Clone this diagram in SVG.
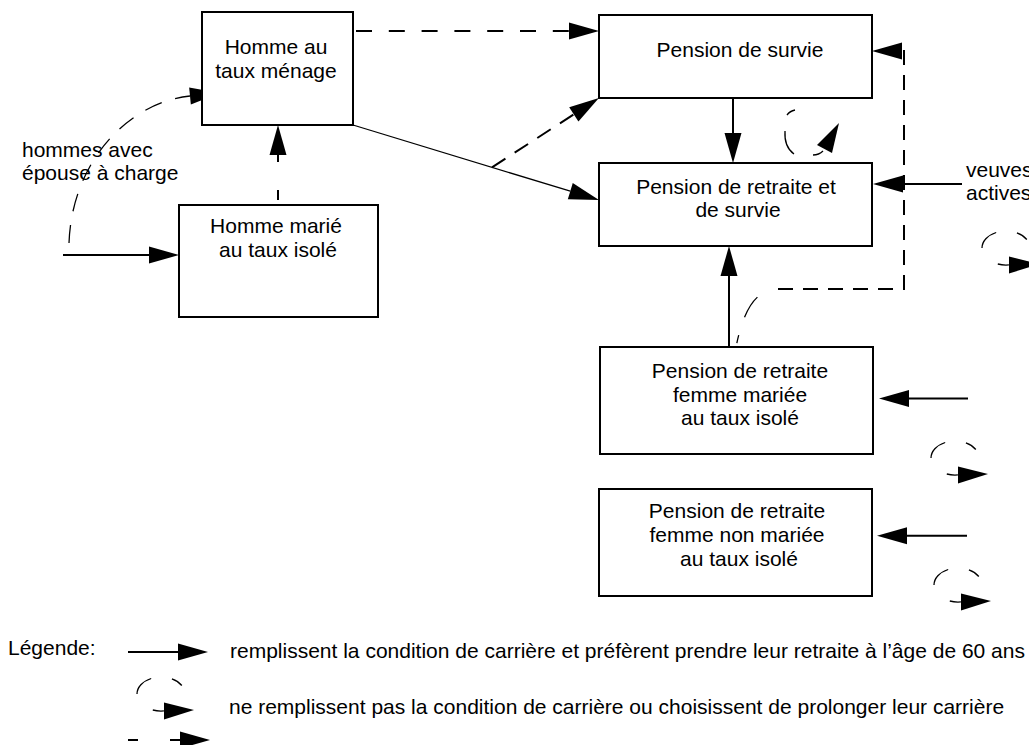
<svg xmlns="http://www.w3.org/2000/svg" xmlns:xlink="http://www.w3.org/1999/xlink" width="1029" height="745" viewBox="0 0 1029 745">
<style>
text{font-family:"Liberation Sans",Arial,Helvetica,sans-serif;font-size:21px;fill:#000}
.box{fill:#fff;stroke:#000;stroke-width:2}
.mid{text-anchor:middle}
.solid{fill:none;stroke:#000;stroke-width:2}
.solidthin{fill:none;stroke:#000;stroke-width:1.3}
.dash{fill:none;stroke:#000;stroke-width:2;stroke-dasharray:16 15}
.thin{fill:none;stroke:#000;stroke-width:1.3}
.head{fill:#000;stroke:none}
</style>
<defs>
<marker id="ah" markerUnits="userSpaceOnUse" markerWidth="31" markerHeight="18" refX="0" refY="8.5" orient="auto" overflow="visible">
<path d="M0,0 L30,8.5 L0,17 z" fill="#000"/>
</marker>
<g id="loop">
<path class="thin" d="M20.8,-8.5 A24,17 0 0 0 10.9,-15.1 M-9.8,-15.5 A24,17 0 0 0 -24,0 M-8.2,16 A24,17 0 0 0 2.9,16.9"/>
<polygon class="head" points="3,8.5 3,25.5 33,16"/>
</g>
</defs>

<g id="connectors">
<path class="dash" d="M356,31 H569" style="stroke-dasharray:16 16.8" marker-end="url(#ah)"/>
<path class="solidthin" d="M353,125 L570.3,191.2" marker-end="url(#ah)"/>
<path class="dash" d="M492,167.4 L573.8,114.3" style="stroke-dasharray:16 11" marker-end="url(#ah)"/>
<path class="solid" d="M733,98 V133" marker-end="url(#ah)"/>
<path class="solid" d="M729,347 V276" marker-end="url(#ah)"/>
<path class="thin" d="M736,347 C742,318 752,289 778,289" style="stroke-dasharray:0 4 8 19 24 40"/>
<path class="dash" d="M778,289 H904 V51 H902" style="stroke-dasharray:15 10" marker-end="url(#ah)"/>
<path class="solid" d="M962,184 H903" marker-end="url(#ah)"/>
<path class="solid" d="M968,398.5 H909" marker-end="url(#ah)"/>
<path class="solid" d="M967,535.7 H907" marker-end="url(#ah)"/>
<path class="solid" d="M63,255 H149" marker-end="url(#ah)"/>
<path class="dash" d="M278,200 V155" style="stroke-dasharray:10 28" marker-end="url(#ah)"/>
<path class="thin" d="M69,243 C72,160 130,102 190,96" style="stroke-dasharray:18 14" marker-end="url(#ah)"/>
<g id="loop-survie">
<path class="thin" d="M787,115 Q790,111 795,110 M785,131 Q784,147 794,154 M813,155 Q819,155 823,151"/>
<polygon class="head" points="817,145 832,153 839,123"/>
</g>
<use xlink:href="#loop" href="#loop" transform="translate(1006,248)"/>
<use xlink:href="#loop" href="#loop" transform="translate(955,458)"/>
<use xlink:href="#loop" href="#loop" transform="translate(958,585)"/>
</g>

<g id="homme-menage">
<rect class="box" x="202" y="12" width="151" height="113"/>
<text class="mid" x="276" y="54">Homme au</text>
<text class="mid" x="276" y="78">taux ménage</text>
</g>
<g id="homme-isole">
<rect class="box" x="179" y="205" width="199" height="112"/>
<text class="mid" x="276" y="233">Homme marié</text>
<text class="mid" x="278" y="257">au taux isolé</text>
</g>
<g id="pension-survie">
<rect class="box" x="599" y="15" width="273" height="83"/>
<text class="mid" x="740" y="57">Pension de survie</text>
</g>
<g id="pension-retraite-survie">
<rect class="box" x="599" y="163" width="273" height="83"/>
<text class="mid" x="736" y="194">Pension de retraite et</text>
<text class="mid" x="738" y="217">de survie</text>
</g>
<g id="femme-mariee">
<rect class="box" x="600" y="347" width="273" height="107"/>
<text class="mid" x="740" y="378">Pension de retraite</text>
<text class="mid" x="740" y="402">femme mariée</text>
<text class="mid" x="740" y="425">au taux isolé</text>
</g>
<g id="femme-non-mariee">
<rect class="box" x="599" y="489" width="273" height="107"/>
<text class="mid" x="737" y="518">Pension de retraite</text>
<text class="mid" x="737" y="542">femme non mariée</text>
<text class="mid" x="739" y="566">au taux isolé</text>
</g>
<g id="labels">
<text x="22" y="157">hommes avec</text>
<text x="22" y="180">épouse à charge</text>
<text x="966" y="177">veuves</text>
<text x="966" y="200">actives</text>
</g>
<g id="legend">
<text x="8" y="655">Légende:</text>
<path class="solid" d="M128,652 H178" marker-end="url(#ah)"/>
<text x="230" y="658">remplissent la condition de carrière et préfèrent prendre leur retraite à l’âge de 60 ans</text>
<use xlink:href="#loop" href="#loop" transform="translate(161,694)"/>
<text x="229" y="714">ne remplissent pas la condition de carrière ou choisissent de prolonger leur carrière</text>
<path class="dash" d="M128,740 H180" style="stroke-dasharray:10 32" marker-end="url(#ah)"/>
</g>
</svg>
